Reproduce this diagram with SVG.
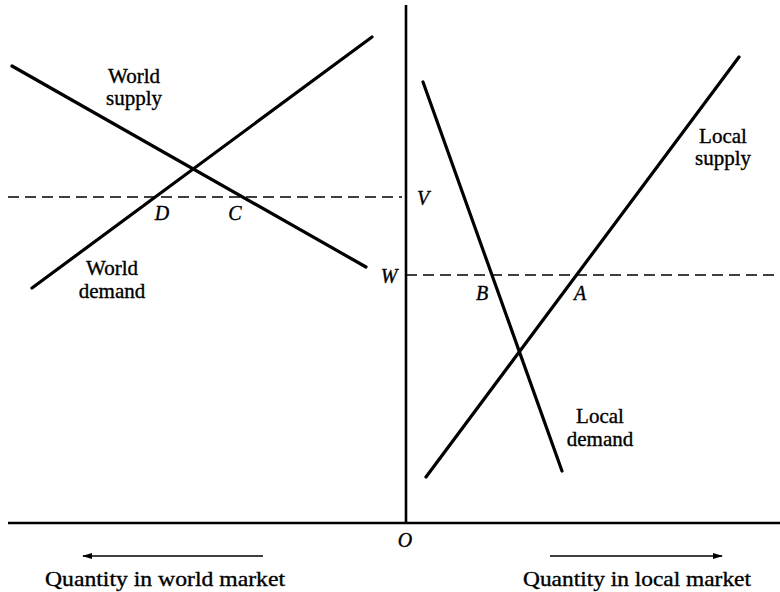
<svg xmlns="http://www.w3.org/2000/svg" width="780" height="592" viewBox="0 0 780 592">
<style>
.curve{stroke:#000;stroke-width:3.2;fill:none;stroke-linecap:round}
.axis{stroke:#000;stroke-width:2.6;fill:none}
.dash{stroke:#000;stroke-width:1.4;stroke-dasharray:11 6;fill:none}
.arr{stroke:#000;stroke-width:1.5;fill:none}
text{font-family:"Liberation Serif","Times New Roman",serif;font-size:21px;fill:#000;stroke:#000;stroke-width:0.35}
.lab{font-style:italic;text-anchor:middle;font-size:20px}
.mid{text-anchor:middle}
</style>
<defs>
<marker id="ah" viewBox="0 0 10 6" refX="9" refY="3" markerWidth="10" markerHeight="6" markerUnits="userSpaceOnUse" orient="auto">
<path d="M0,0 L10,3 L0,6 Z" fill="#000"/>
</marker>
</defs>
<rect width="780" height="592" fill="#fff"/>
<g id="axes">
<line class="axis" x1="406" y1="5" x2="406" y2="523"/>
<line class="axis" x1="8" y1="523" x2="780" y2="523"/>
<text class="lab" x="405" y="547">O</text>
</g>
<g id="connectors">
<line class="dash" x1="8" y1="197" x2="402" y2="197"/>
<line class="dash" x1="406" y1="275" x2="780" y2="275"/>
<line class="arr" x1="263" y1="556" x2="83" y2="556" marker-end="url(#ah)"/>
<line class="arr" x1="550" y1="556" x2="722" y2="556" marker-end="url(#ah)"/>
</g>
<g id="world-supply">
<line class="curve" x1="32" y1="288" x2="372" y2="37"/>
<text class="mid" x="134" y="83">World</text>
<text class="mid" x="134" y="105">supply</text>
</g>
<g id="world-demand">
<line class="curve" x1="12" y1="66" x2="366" y2="267"/>
<text class="mid" x="112" y="275">World</text>
<text class="mid" x="112" y="298">demand</text>
</g>
<g id="local-demand">
<line class="curve" x1="423" y1="82" x2="562" y2="471"/>
<text class="mid" x="600" y="423">Local</text>
<text class="mid" x="600" y="446">demand</text>
</g>
<g id="local-supply">
<line class="curve" x1="426" y1="477" x2="739" y2="57"/>
<text class="mid" x="723" y="143">Local</text>
<text class="mid" x="723" y="165">supply</text>
</g>
<g id="points">
<text class="lab" x="423" y="205">V</text>
<text class="lab" x="389" y="283">W</text>
<text class="lab" x="162" y="220">D</text>
<text class="lab" x="235" y="220">C</text>
<text class="lab" x="482" y="300">B</text>
<text class="lab" x="580" y="300">A</text>
</g>
<g id="axis-labels">
<text x="45" y="586" textLength="240" lengthAdjust="spacingAndGlyphs">Quantity in world market</text>
<text x="523" y="586" textLength="228" lengthAdjust="spacingAndGlyphs">Quantity in local market</text>
</g>
</svg>
